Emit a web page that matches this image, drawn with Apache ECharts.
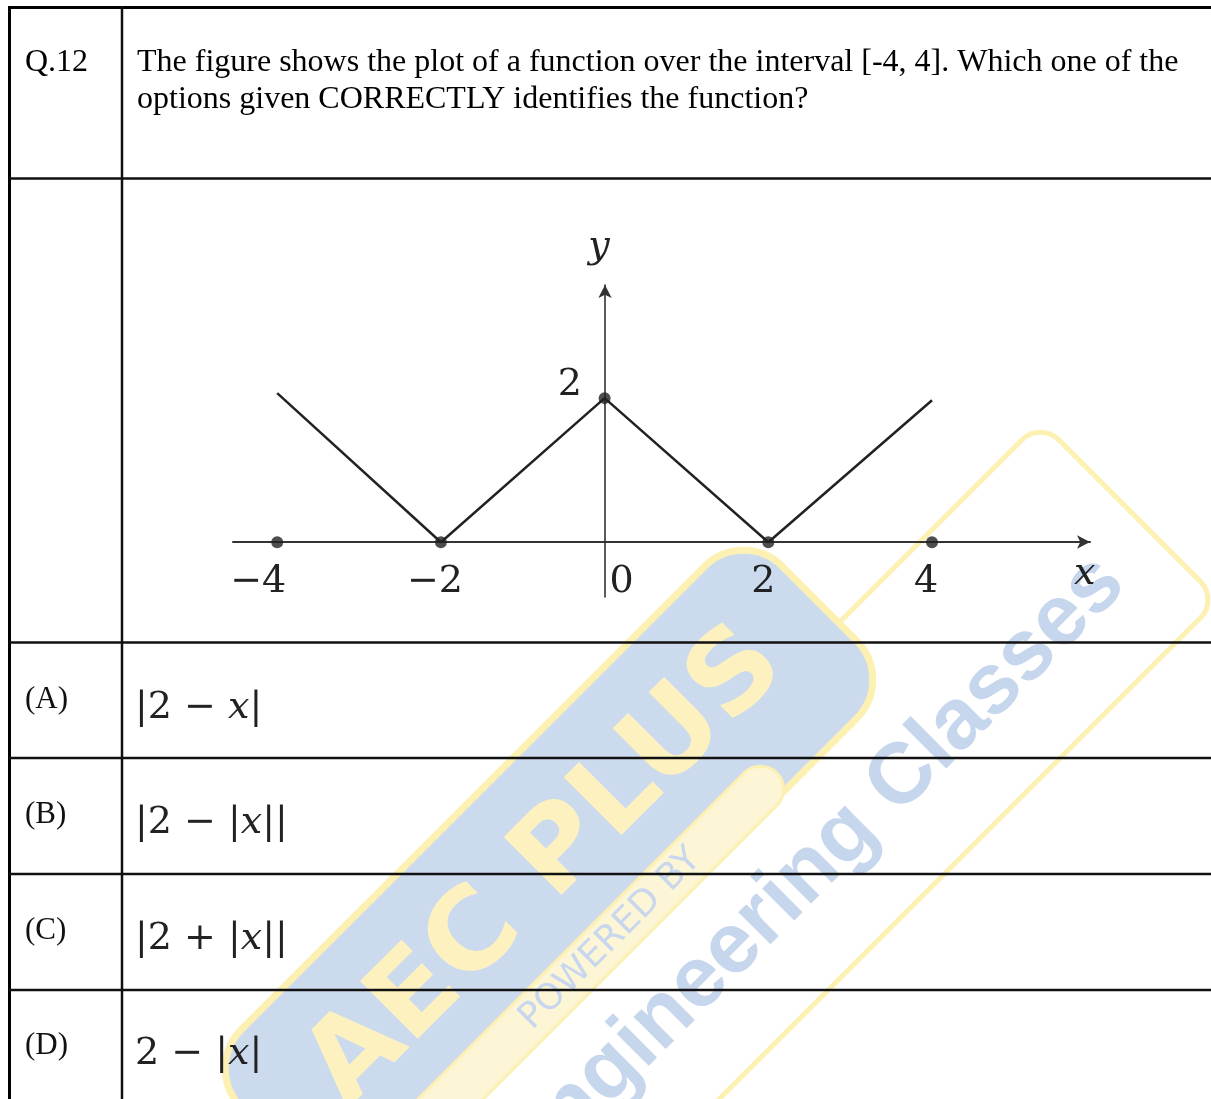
<!DOCTYPE html>
<html>
<head>
<meta charset="utf-8">
<title>Q.12</title>
<script src="https://cdn.jsdelivr.net/npm/echarts@6/dist/echarts.min.js"></script>
<style>
  html, body { margin: 0; padding: 0; background: #fff; }
  #chart { width: 1211px; height: 1099px; }
</style>
</head>
<body>
<div id="chart"></div>
<script>
// plotted function: the broken line over [-4, 4]
const lineX = [-4, -2, 0, 2, 4];
const lineY = [2.07, 0, 2, 0, 1.97];
// marked points on the figure
const dotX = [-4, -2, 0, 2, 4];
const dotY = [0, 0, 2, 0, 0];
// tick labels
const xTicks = [-4, -2, 0, 2, 4];
const yTicks = [2];

const question = [
  'The figure shows the plot of a function over the interval [-4, 4]. Which one of the',
  'options given CORRECTLY identifies the function?'
];
const optionLabels = ['(A)', '(B)', '(C)', '(D)'];
const optionTexts = ['|2 − {i|x}|', '|2 − |{i|x}||', '|2 + |{i|x}||', '2 − |{i|x}|'];

const serif = '"Liberation Serif", "Times New Roman", serif';
const mathFont = '"DejaVu Serif", serif';

const chart = echarts.init(document.getElementById('chart'));

// x label nudges (the picture does not centre them exactly under the ticks)
const xLabelKey = { '-4': 'n4', '-2': 'n2', '0': 'z', '2': 'p2', '4': 'p4' };
const labelBase = { fontFamily: mathFont, fontSize: 38, lineHeight: 38, color: '#222' };

// table rules
const rowLines = [178.5, 642.5, 758, 874, 990];
const elements = [];
elements.push({ type: 'line', z: 10, shape: { x1: 9, y1: 7.5, x2: 1211, y2: 7.5 }, style: { stroke: '#000', lineWidth: 3 } });
elements.push({ type: 'line', z: 10, shape: { x1: 9.5, y1: 6, x2: 9.5, y2: 1099 }, style: { stroke: '#000', lineWidth: 3 } });
elements.push({ type: 'line', z: 10, shape: { x1: 122, y1: 6, x2: 122, y2: 1099 }, style: { stroke: '#111', lineWidth: 2.5 } });
rowLines.forEach(function (y) {
  elements.push({ type: 'line', z: 10, shape: { x1: 9, y1: y, x2: 1211, y2: y }, style: { stroke: '#111', lineWidth: 2.5 } });
});

// question text
elements.push({ type: 'text', z: 10, x: 25, y: 63, style: { text: 'Q.12', font: '32px ' + serif, fill: '#000', textVerticalAlign: 'middle' } });
question.forEach(function (t, i) {
  elements.push({ type: 'text', z: 10, x: 137, y: 63 + i * 37, style: { text: t, font: '32px ' + serif, fill: '#000', textVerticalAlign: 'middle' } });
});

// options
const optionY = [699, 814, 930, 1045];
optionLabels.forEach(function (t, i) {
  elements.push({ type: 'text', z: 10, x: 25, y: optionY[i] + 1, style: { text: t, font: '31px ' + serif, fill: '#111', textVerticalAlign: 'middle' } });
  elements.push({
    type: 'text', z: 10, x: 135, y: optionY[i] + 9,
    style: {
      text: optionTexts[i], fontFamily: mathFont, fontSize: 38, fill: '#222', textVerticalAlign: 'middle',
      rich: { i: { fontFamily: mathFont, fontSize: 38, fontStyle: 'italic', fill: '#222' } }
    }
  });
});

// watermark logo, rotated
const yellow = '#fcf0b2';
elements.push({
  type: 'group', z: -5, x: 1044, y: 425, rotation: Math.PI / 4,
  children: [
    { type: 'rect', shape: { x: -1300, y: -5, width: 1300, height: 252, r: 26 }, style: { fill: 'none', stroke: yellow, lineWidth: 5 } },
    { type: 'rect', shape: { x: -1050, y: -140, width: 765, height: 215, r: 55 }, style: { fill: '#ccdaee', stroke: yellow, lineWidth: 7 } },
    { type: 'rect', shape: { x: -1150, y: 34, width: 715, height: 46, r: 23 }, style: { fill: '#fdf6d6', stroke: yellow, lineWidth: 3 } },
    { type: 'text', x: -665, y: -38, scaleX: 1.03, style: { text: 'AEC PLUS', font: 'bold 112px "DejaVu Sans"', fill: '#fdf2bf', textAlign: 'center', textVerticalAlign: 'middle' } },
    { type: 'text', x: -670, y: 57, style: { text: 'POWERED BY', font: '36px "DejaVu Sans"', fill: '#c8d7ee', textAlign: 'center', textVerticalAlign: 'middle' } },
    { type: 'text', x: -55, y: 150, style: { text: 'Engineering Classes', font: 'bold 86px "Liberation Sans"', fill: '#c6d6ed', textAlign: 'right', textVerticalAlign: 'middle' } }
  ]
});

const option = {
  backgroundColor: '#fff',
  animation: false,
  grid: { left: 233, right: 121, top: 285, bottom: 502, outerBoundsMode: 'none' },
  xAxis: {
    type: 'value',
    min: -4.54,
    max: 5.93,
    offset: -55, // sits on y = 0
    name: '{a|x}',
    nameLocation: 'end',
    nameGap: -16,
    nameTextStyle: {
      rich: { a: { fontFamily: mathFont, fontSize: 38, lineHeight: 38, fontStyle: 'italic', color: '#222', padding: [64, 0, 0, 0] } }
    },
    axisLine: { onZero: false, lineStyle: { color: '#333', width: 2 }, symbol: ['none', 'arrow'], symbolSize: [10, 13] },
    axisTick: { show: false },
    splitLine: { show: false },
    axisLabel: {
      customValues: xTicks,
      margin: 21,
      formatter: function (v) {
        const s = v < 0 ? '−' + Math.abs(v) : String(v);
        return '{' + xLabelKey[String(v)] + '|' + s + '}';
      },
      rich: {
        n4: Object.assign({ padding: [0, 38, 0, 0] }, labelBase),
        n2: Object.assign({ padding: [0, 12, 0, 0] }, labelBase),
        z: Object.assign({ padding: [0, 0, 0, 34] }, labelBase),
        p2: Object.assign({ padding: [0, 10, 0, 0] }, labelBase),
        p4: Object.assign({ padding: [0, 12, 0, 0] }, labelBase)
      }
    }
  },
  yAxis: {
    type: 'value',
    min: -0.76,
    max: 3.57,
    offset: -372, // sits on x = 0
    name: 'y',
    nameLocation: 'end',
    nameGap: 19,
    nameTextStyle: { fontFamily: mathFont, fontSize: 38, fontStyle: 'italic', color: '#222', lineHeight: 38, padding: [0, 12, 0, 0] },
    axisLine: { onZero: false, lineStyle: { color: '#333', width: 1.6 }, symbol: ['none', 'arrow'], symbolSize: [10, 13] },
    axisTick: { show: false },
    splitLine: { show: false },
    axisLabel: {
      customValues: yTicks,
      margin: 23,
      formatter: function (v) { return '{a|' + v + '}'; },
      rich: { a: Object.assign({ padding: [0, 0, 26, 0] }, labelBase) }
    }
  },
  series: [
    {
      type: 'line',
      data: lineX.map(function (x, i) { return [x, lineY[i]]; }),
      showSymbol: false,
      lineStyle: { color: '#222', width: 2.5 },
      z: 3
    },
    {
      type: 'scatter',
      data: dotX.map(function (x, i) { return [x, dotY[i]]; }),
      symbolSize: 12,
      itemStyle: { color: '#222' },
      z: 4
    }
  ],
  graphic: { elements: elements }
};

chart.setOption(option);
</script>
</body>
</html>
